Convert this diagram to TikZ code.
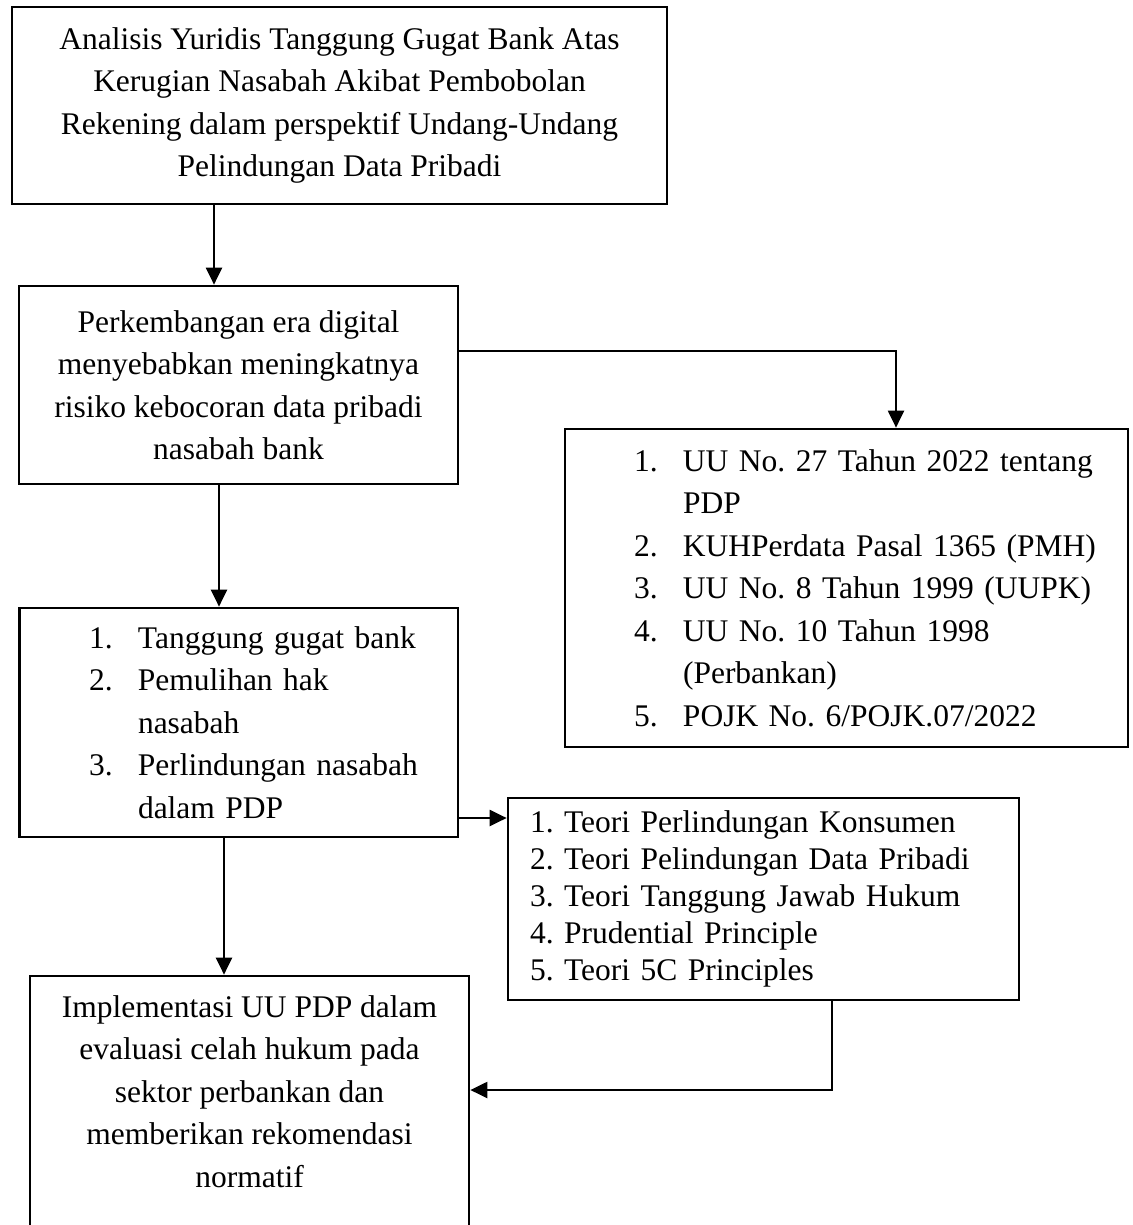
\documentclass[tikz,border=0pt]{standalone}
\usepackage{fontspec}
\setmainfont{Liberation Serif}
\usetikzlibrary{arrows.meta}
\frenchspacing

% numbered line with hanging indent
\newcommand{\butir}[2]{\mbox{\makebox[49pt][l]{#1}#2}}
\newcommand{\lanjut}[1]{\mbox{\hspace*{49pt}#1}}

\begin{document}
\begin{tikzpicture}[x=1pt, y=-1pt,
  kotak/.style={draw, line width=2.7pt, rectangle, align=center,
    font=\fontsize{31.5}{42.5}\selectfont},
  daftar/.style={kotak, align=left},
  panah/.style={line width=2.2pt, -{Triangle[width=16pt,length=17pt]}}]

\useasboundingbox (0,0) rectangle (1132,1225);

\node[kotak, minimum width=655, minimum height=197] (judul) at (339.5,105.5)
  {Analisis Yuridis Tanggung Gugat Bank Atas\\Kerugian Nasabah Akibat Pembobolan\\Rekening dalam perspektif Undang-Undang\\Pelindungan Data Pribadi};
\node[kotak, minimum width=439, minimum height=198] (latar) at (238.5,385)
  {Perkembangan era digital\\menyebabkan meningkatnya\\risiko kebocoran data pribadi\\nasabah bank};
\node[daftar, text width=425, inner xsep=69, minimum height=318] (dasar) at (846.5,588)
  {\butir{1.}{UU No. 27 Tahun 2022 tentang}\\
   \lanjut{PDP}\\
   \butir{2.}{KUHPerdata Pasal 1365 (PMH)}\\
   \butir{3.}{UU No. 8 Tahun 1999 (UUPK)}\\
   \butir{4.}{UU No. 10 Tahun 1998}\\
   \lanjut{(Perbankan)}\\
   \butir{5.}{POJK No. 6/POJK.07/2022}};
\node[daftar, text width=299.5, inner xsep=69.5, minimum height=229] (fokus) at (238.75,722.5)
  {\butir{1.}{Tanggung gugat bank}\\
   \butir{2.}{Pemulihan hak}\\
   \lanjut{nasabah}\\
   \butir{3.}{Perlindungan nasabah}\\
   \lanjut{dalam PDP}};
\node[daftar, text width=467, inner xsep=22, minimum height=202,
  font=\fontsize{31.5}{37}\selectfont] (teori) at (763.5,899)
  {1. Teori Perlindungan Konsumen\\2. Teori Pelindungan Data Pribadi\\3. Teori Tanggung Jawab Hukum\\4. Prudential Principle\\5. Teori 5C Principles};
\node[kotak, minimum width=439, minimum height=286] (hasil) at (249.5,1119)
  {Implementasi UU PDP dalam\\evaluasi celah hukum pada\\sektor perbankan dan\\memberikan rekomendasi\\normatif\\\strut};

\coordinate (k0) at (214,0);
\coordinate (k1) at (896,351);
\coordinate (k2) at (219,0);
\coordinate (k3) at (0,818);
\coordinate (k4) at (832,1090);
\coordinate (k5) at (224,0);

\draw[panah] (judul.south -| k0) -- (latar.north -| k0);
\draw[panah] (latar.east |- k1) -- (k1) -- (dasar.north -| k1);
\draw[panah] (latar.south -| k2) -- (fokus.north -| k2);
\draw[panah] (fokus.east |- k3) -- (teori.west |- k3);
\draw[panah] (fokus.south -| k5) -- (hasil.north -| k5);
\draw[panah] (teori.south -| k4) -- (k4) -- (hasil.east |- k4);

\end{tikzpicture}
\end{document}
